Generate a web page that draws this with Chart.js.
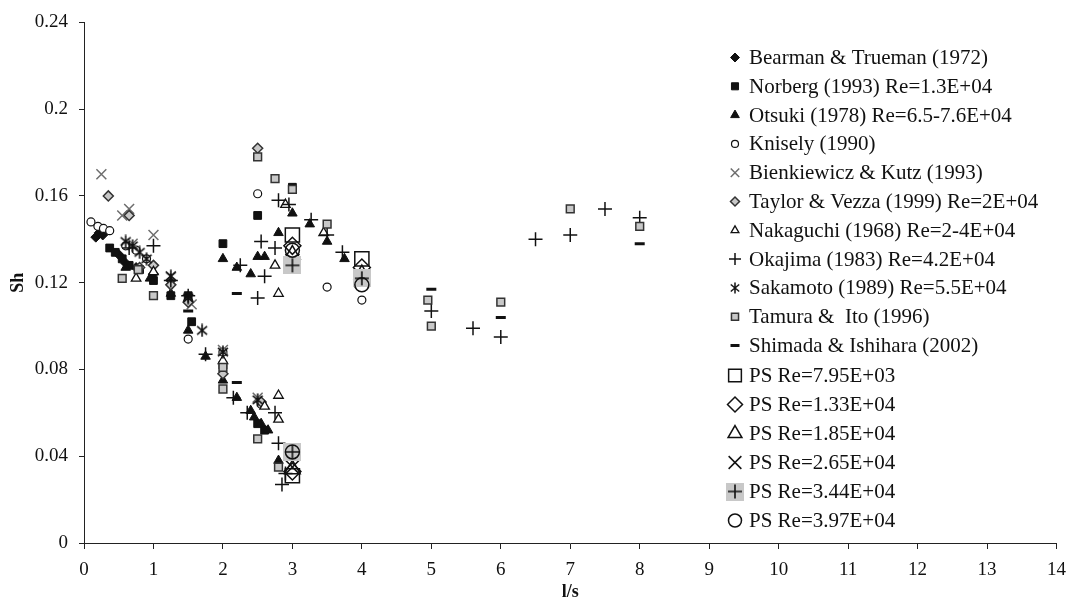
<!DOCTYPE html>
<html>
<head>
<meta charset="utf-8">
<script src="https://cdn.jsdelivr.net/npm/chart.js@4.4.1/dist/chart.umd.min.js"></script>
<style>
  html, body { margin: 0; padding: 0; background: #fff; }
  canvas { display: block; }
</style>
</head>
<body>
<canvas id="c" width="1076" height="603"></canvas>
<script>
// Axis tick labels
const xTickLabels = ['0','1','2','3','4','5','6','7','8','9','10','11','12','13','14'];
const yTickLabels = ['0','0.04','0.08','0.12','0.16','0.2','0.24'];

// Series names (legend order)
const seriesNames = [
  'Bearman & Trueman (1972)',
  'Norberg (1993) Re=1.3E+04',
  'Otsuki (1978) Re=6.5-7.6E+04',
  'Knisely (1990)',
  'Bienkiewicz & Kutz (1993)',
  'Taylor & Vezza (1999) Re=2E+04',
  'Nakaguchi (1968) Re=2-4E+04',
  'Okajima (1983) Re=4.2E+04',
  'Sakamoto (1989) Re=5.5E+04',
  'Tamura &  Ito (1996)',
  'Shimada & Ishihara (2002)',
  'PS Re=7.95E+03',
  'PS Re=1.33E+04',
  'PS Re=1.85E+04',
  'PS Re=2.65E+04',
  'PS Re=3.44E+04',
  'PS Re=3.97E+04'
];

// [l/s, Sh] pairs for each series
const bearman = [[0.17,0.141],[0.22,0.143],[0.27,0.142],[0.5,0.133],[0.6,0.129],[0.75,0.127],[1.0,0.124],[1.25,0.121]];
const norberg = [[0.37,0.136],[0.45,0.134],[0.55,0.131],[0.65,0.128],[0.8,0.126],[1.0,0.121],[1.25,0.114],[1.5,0.114],[1.55,0.102],[2.0,0.138],[2.0,0.082],[2.5,0.151],[2.5,0.055],[2.6,0.052],[3.0,0.164]];
const otsuki = [[0.6,0.127],[0.95,0.122],[1.25,0.115],[1.5,0.113],[1.5,0.098],[1.75,0.086],[2.0,0.131],[2.0,0.075],[2.2,0.127],[2.2,0.067],[2.4,0.124],[2.4,0.061],[2.45,0.058],[2.5,0.132],[2.55,0.055],[2.6,0.132],[2.65,0.052],[2.8,0.143],[2.8,0.038],[3.0,0.152],[3.25,0.147],[3.5,0.139],[3.75,0.131]];
const knisely = [[0.1,0.148],[0.2,0.146],[0.28,0.145],[0.37,0.144],[0.6,0.137],[0.75,0.135],[0.9,0.131],[1.5,0.094],[2.0,0.088],[2.5,0.161],[2.55,0.064],[3.5,0.118],[4.0,0.112]];
const bienkiewicz = [[0.25,0.170],[0.55,0.151],[0.65,0.154],[0.7,0.138],[1.0,0.142],[1.25,0.123],[1.55,0.110],[2.0,0.089],[2.5,0.067]];
const taylor = [[0.35,0.160],[0.65,0.151],[0.8,0.127],[1.0,0.128],[1.25,0.119],[1.5,0.111],[2.0,0.078],[2.5,0.182],[2.55,0.065]];
const nakaguchi = [[0.75,0.122],[1.0,0.125],[2.0,0.084],[2.6,0.063],[2.75,0.128],[2.8,0.115],[2.8,0.068],[2.8,0.057],[2.9,0.156],[3.45,0.143]];
const okajima = [[0.65,0.136],[1.0,0.137],[1.25,0.121],[1.5,0.114],[1.75,0.087],[2.15,0.067],[2.25,0.128],[2.35,0.060],[2.5,0.113],[2.55,0.139],[2.6,0.123],[2.75,0.136],[2.75,0.060],[2.8,0.158],[2.8,0.046],[2.85,0.027],[2.9,0.032],[2.95,0.156],[3.27,0.149],[3.5,0.142],[3.72,0.134],[5.0,0.107],[5.6,0.099],[6.0,0.095],[6.5,0.140],[7.0,0.142],[7.5,0.154],[8.0,0.150]];
const sakamoto = [[0.6,0.139],[0.7,0.137],[0.8,0.134],[0.9,0.131],[1.25,0.123],[1.5,0.113],[1.7,0.098],[2.0,0.088],[2.5,0.066]];
const tamura = [[0.55,0.122],[0.78,0.126],[1.0,0.114],[2.0,0.081],[2.0,0.071],[2.5,0.178],[2.5,0.048],[2.75,0.168],[2.8,0.035],[3.0,0.163],[3.5,0.147],[4.0,0.121],[4.95,0.112],[5.0,0.100],[6.0,0.111],[7.0,0.154],[8.0,0.146]];
const shimada = [[1.5,0.107],[2.2,0.115],[2.2,0.074],[5.0,0.117],[6.0,0.104],[8.0,0.138]];
const ps795 = [[3.0,0.142],[4.0,0.131],[3.0,0.031]];
const ps133 = [[3.0,0.137],[4.0,0.127],[3.0,0.033]];
const ps185 = [[3.0,0.133],[4.0,0.124],[3.0,0.034]];
const ps265 = [[3.0,0.130],[4.0,0.121],[3.0,0.035]];
const ps344 = [[3.0,0.128],[4.0,0.122],[3.0,0.042]];
const ps397 = [[3.0,0.135],[4.0,0.119],[3.0,0.042]];

// Custom marker images
function asterisk(size, lw) {
  const c = document.createElement('canvas');
  c.width = c.height = size;
  const g = c.getContext('2d');
  g.strokeStyle = '#111';
  g.lineWidth = lw;
  const m = size / 2, r = size / 2 - 0.5;
  g.beginPath();
  [90, 40, 140].forEach(a => {
    const t = a * Math.PI / 180;
    g.moveTo(m - r * Math.cos(t), m - r * Math.sin(t));
    g.lineTo(m + r * Math.cos(t), m + r * Math.sin(t));
  });
  g.stroke();
  return c;
}
function plusOnGrey(size, arm, lw) {
  const c = document.createElement('canvas');
  c.width = c.height = size;
  const g = c.getContext('2d');
  g.fillStyle = '#c8c8c8';
  g.fillRect(0, 0, size, size);
  g.strokeStyle = '#111';
  g.lineWidth = lw;
  const m = size / 2;
  g.beginPath();
  g.moveTo(m - arm, m); g.lineTo(m + arm, m);
  g.moveTo(m, m - arm); g.lineTo(m, m + arm);
  g.stroke();
  return c;
}

const starMark = asterisk(14, 1.6);
const starIcon = asterisk(12, 1.5);
const psPlusMark = plusOnGrey(18, 7, 1.6);
const psPlusIcon = plusOnGrey(18, 7, 1.6);

const toXY = arr => arr.map(p => ({ x: p[0], y: p[1] }));

const BLACK = '#111111', GREY = '#c8c8c8', DARK = '#333333', NONE = 'rgba(0,0,0,0)';
const styles = [
  { data: bearman, pointStyle: 'rectRot', radius: 5, bg: BLACK, bc: BLACK, bw: 1, icon: 4.5 },
  { data: norberg, pointStyle: 'rect', radius: 5.5, bg: BLACK, bc: BLACK, bw: 1, icon: 5 },
  { data: otsuki, pointStyle: 'triangle', radius: 5.5, bg: BLACK, bc: BLACK, bw: 1, icon: 5 },
  { data: knisely, pointStyle: 'circle', radius: 4, bg: '#ffffff', bc: BLACK, bw: 1.2, icon: 3.5 },
  { data: bienkiewicz, pointStyle: 'crossRot', radius: 7, bg: NONE, bc: '#6e6e6e', bw: 1.5, icon: 6 },
  { data: taylor, pointStyle: 'rectRot', radius: 5, bg: GREY, bc: DARK, bw: 1.5, icon: 4.5 },
  { data: nakaguchi, pointStyle: 'triangle', radius: 5.5, bg: '#ffffff', bc: BLACK, bw: 1.3, icon: 4.5 },
  { data: okajima, pointStyle: 'cross', radius: 7, bg: NONE, bc: BLACK, bw: 1.5, icon: 6 },
  { data: sakamoto, pointStyle: starMark, radius: 7, bg: BLACK, bc: BLACK, bw: 0, icon: 6, iconStyle: starIcon },
  { data: tamura, pointStyle: 'rect', radius: 5.5, bg: GREY, bc: DARK, bw: 1.5, icon: 5 },
  { data: shimada, pointStyle: 'line', radius: 5, bg: BLACK, bc: BLACK, bw: 3, icon: 4.5 },
  { data: ps795, pointStyle: 'rect', radius: 10, bg: NONE, bc: BLACK, bw: 1.5, icon: 9 },
  { data: ps133, pointStyle: 'rectRot', radius: 8.5, bg: NONE, bc: BLACK, bw: 1.5, icon: 7.5 },
  { data: ps185, pointStyle: 'triangle', radius: 9, bg: NONE, bc: BLACK, bw: 1.5, icon: 8 },
  { data: ps265, pointStyle: 'crossRot', radius: 10, bg: NONE, bc: BLACK, bw: 1.5, icon: 9 },
  { data: ps344, pointStyle: psPlusMark, radius: 9, bg: BLACK, bc: BLACK, bw: 0, icon: 8, iconStyle: psPlusIcon },
  { data: ps397, pointStyle: 'circle', radius: 7, bg: NONE, bc: BLACK, bw: 1.5, icon: 6.5 }
];

const datasets = styles.map((s, i) => ({
  label: seriesNames[i],
  data: toXY(s.data),
  pointStyle: s.pointStyle,
  pointRadius: s.radius,
  pointHoverRadius: s.radius,
  backgroundColor: s.bg,
  borderColor: s.bc,
  borderWidth: s.bw,
  showLine: false,
  order: styles.length - i
}));

// Legend rows drawn at the right side of the plot area
const sideLegend = {
  id: 'sideLegend',
  afterDraw(chart) {
    const ctx = chart.ctx;
    ctx.save();
    ctx.font = '21px "Liberation Serif", "Times New Roman", serif';
    ctx.textBaseline = 'middle';
    ctx.textAlign = 'left';
    styles.forEach((s, i) => {
      const y = i < 11 ? 57.5 + 28.8 * i : 375.5 + 29 * (i - 11);
      const x = 735;
      ctx.save();
      ctx.fillStyle = s.bg;
      ctx.strokeStyle = s.bc;
      ctx.lineWidth = s.bw;
      Chart.helpers.drawPoint(ctx, {
        pointStyle: s.iconStyle || s.pointStyle,
        radius: s.icon,
        borderWidth: s.bw,
        rotation: 0
      }, x, y);
      ctx.restore();
      ctx.fillStyle = '#111';
      ctx.fillText(seriesNames[i], 749, y + 1);
    });
    ctx.restore();
  }
};

Chart.defaults.font.family = '"Liberation Serif", "Times New Roman", serif';
Chart.defaults.color = '#111';

new Chart(document.getElementById('c'), {
  type: 'scatter',
  data: { datasets },
  plugins: [sideLegend],
  options: {
    responsive: false,
    animation: false,
    devicePixelRatio: 1,
    layout: { padding: { left: 0, right: 11, top: 18, bottom: 0 } },
    plugins: {
      legend: { display: false },
      tooltip: { enabled: false }
    },
    scales: {
      x: {
        type: 'linear',
        min: 0,
        max: 14,
        afterFit: s => { s.height = 60; },
        ticks: {
          stepSize: 1,
          autoSkip: false,
          maxRotation: 0,
          padding: 10,
          font: { size: 19 },
          color: '#111',
          callback: (v, i) => xTickLabels[i]
        },
        grid: { display: true, drawOnChartArea: false, drawTicks: true, tickLength: 6, color: '#222', tickWidth: 1 },
        border: { display: true, color: '#222', width: 1 },
        title: { display: true, text: 'l/s', font: { size: 18, weight: 'bold' }, color: '#111', padding: { top: 0, bottom: 0 } }
      },
      y: {
        type: 'linear',
        min: 0,
        max: 0.24,
        afterFit: s => { s.width = 84; },
        ticks: {
          stepSize: 0.04,
          autoSkip: false,
          padding: 11,
          font: { size: 19 },
          color: '#111',
          callback: (v, i) => yTickLabels[i]
        },
        grid: { display: true, drawOnChartArea: false, drawTicks: true, tickLength: 5, color: '#222', tickWidth: 1 },
        border: { display: true, color: '#222', width: 1 },
        title: { display: true, text: 'Sh', font: { size: 18, weight: 'bold' }, color: '#111', padding: { top: 8, bottom: 0 } }
      }
    }
  }
});
</script>
</body>
</html>
